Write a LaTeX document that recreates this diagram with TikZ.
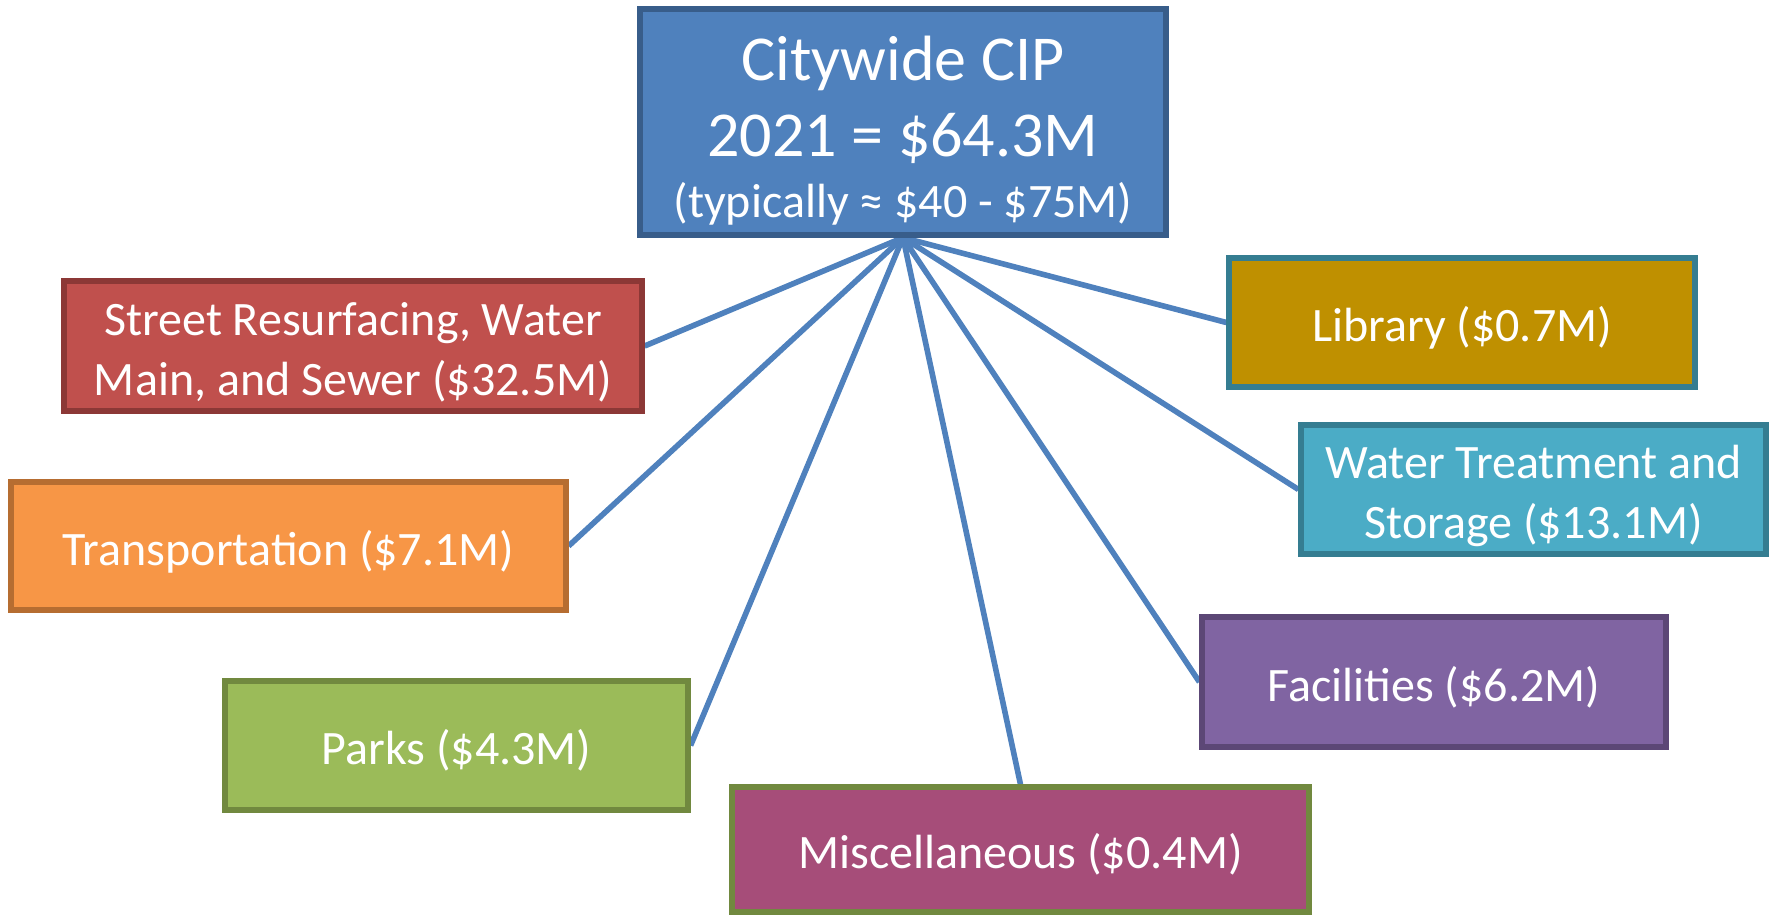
\documentclass[tikz,border=0pt]{standalone}
\usepackage{fontspec}
\setmainfont{Carlito}
\usetikzlibrary{backgrounds}
\definecolor{topfill}{HTML}{4F81BD}
\definecolor{topline}{HTML}{385D8A}
\definecolor{redfill}{HTML}{C0504D}
\definecolor{redline}{HTML}{8C3836}
\definecolor{orfill}{HTML}{F79646}
\definecolor{orline}{HTML}{B66D31}
\definecolor{grfill}{HTML}{9BBB59}
\definecolor{grline}{HTML}{71893F}
\definecolor{mifill}{HTML}{A64D79}
\definecolor{libfill}{HTML}{BF9000}
\definecolor{tealline}{HTML}{357D91}
\definecolor{wafill}{HTML}{4BACC6}
\definecolor{pufill}{HTML}{8064A2}
\definecolor{puline}{HTML}{5C4776}
\definecolor{conn}{HTML}{4F81BD}
\begin{document}
\begin{tikzpicture}[x=0.5pt,y=-0.5pt,
  box/.style={draw, line width=2.6pt, text=white, align=center,
    font=\fontsize{24}{30}\selectfont, inner sep=0pt,
    text height=24pt, text depth=5pt},
  twoline/.style={text height=54pt, text depth=5pt},
  topbox/.style={draw, line width=2.6pt, inner sep=0pt},
  toptext/.style={text=white, anchor=base, inner sep=0pt},
  link/.style={draw=conn, line width=2.8pt}]
\useasboundingbox (0,0) rectangle (1769,916);
\node[topbox, fill=topfill, draw=topline, minimum width=263pt, minimum height=113pt] (top) at (903,122) {};
\node[toptext, font=\fontsize{32}{38}\selectfont] (t1) at (903,80) {Citywide CIP};
\node[toptext, font=\fontsize{32}{38}\selectfont] (t2) at (903,156) {2021 = \$64.3M};
\node[toptext, font=\fontsize{24}{28}\selectfont] (t3) at (903,217) {(typically ≈ \$40 - \$75M)};

\node[box, twoline, fill=redfill, draw=redline, minimum width=289pt, minimum height=65pt] (street) at (353,346) {Street Resurfacing, Water\\Main, and Sewer (\$32.5M)};
\node[box, fill=orfill, draw=orline, minimum width=277.5pt, minimum height=64pt] (trans) at (288.5,546) {Transportation (\$7.1M)};
\node[box, fill=grfill, draw=grline, minimum width=231.5pt, minimum height=64.5pt] (parks) at (456.5,745.5) {Parks (\$4.3M)};
\node[box, fill=mifill, draw=grline, minimum width=288.5pt, minimum height=62.5pt] (misc) at (1020.5,849.5) {Miscellaneous (\$0.4M)};
\node[box, fill=libfill, draw=tealline, minimum width=233pt, minimum height=64.5pt] (lib) at (1462,322.5) {Library (\$0.7M)};
\node[box, twoline, fill=wafill, draw=tealline, minimum width=232.5pt, minimum height=64.5pt] (water) at (1533.5,489.5) {Water Treatment and\\Storage (\$13.1M)};
\node[box, fill=pufill, draw=puline, minimum width=232pt, minimum height=65pt] (fac) at (1434,682) {Facilities (\$6.2M)};

\begin{scope}[on background layer]
\draw[link] (top.south) -- (street.east);
\draw[link] (top.south) -- (trans.east);
\draw[link] (top.south) -- (parks.east);
\draw[link] (top.south) -- (misc.north);
\draw[link] (top.south) -- (fac.west);
\draw[link] (top.south) -- (water.west);
\draw[link] (top.south) -- (lib.west);
\end{scope}
\end{tikzpicture}
\end{document}
